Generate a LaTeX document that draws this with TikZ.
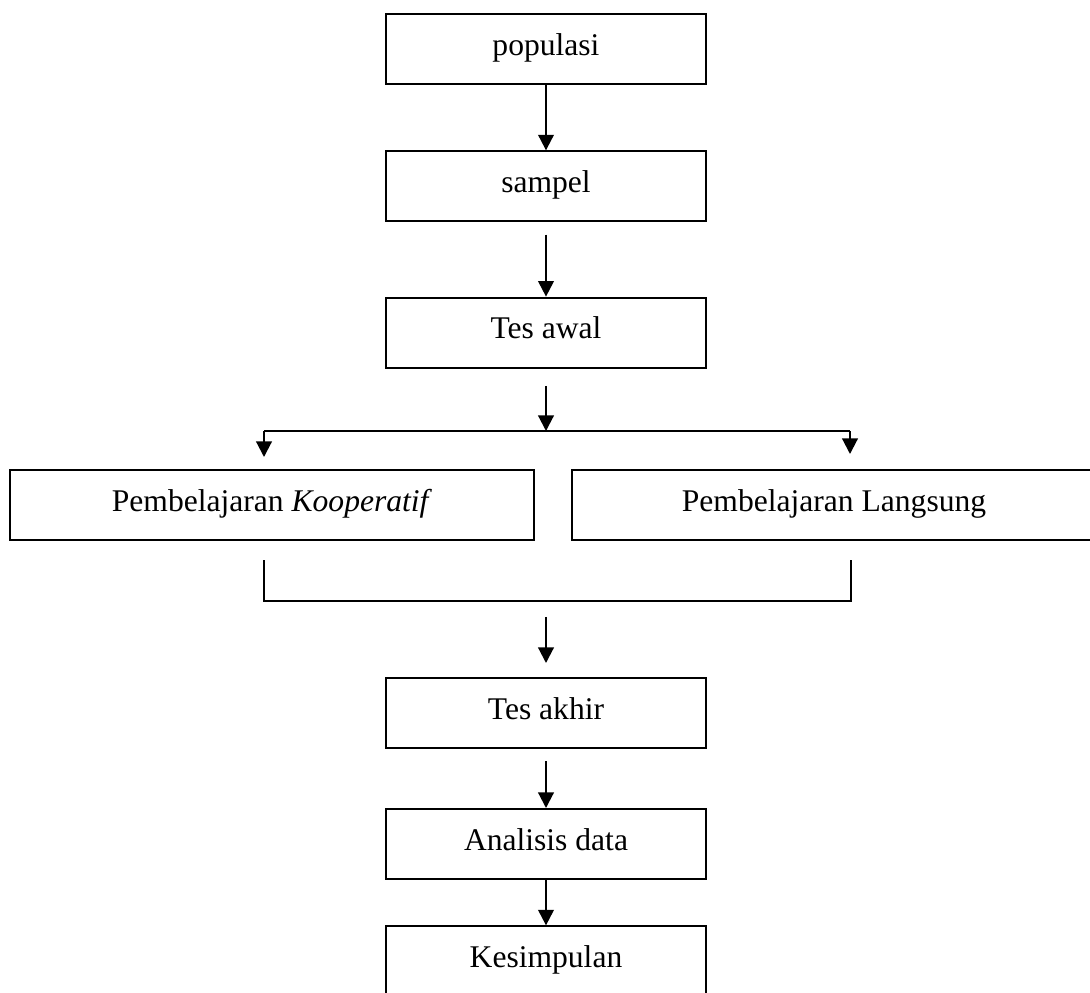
\documentclass[tikz,border=0pt]{standalone}
\usepackage{fontspec}
\setmainfont{Liberation Serif}
\usetikzlibrary{arrows.meta, positioning}

\begin{document}
\begin{tikzpicture}[
    x=0.38pt, y=-0.38pt,
    font=\fontsize{12}{14}\selectfont,
    stage/.style={rectangle, minimum width=121.6pt, minimum height=26.6pt, text height=8pt, text depth=3.4pt, text centered, draw=black, line width=0.8pt},
    method/.style={stage, minimum width=199.1pt},
    arrow/.style={-{Triangle[length=5.9pt, width=5.9pt]}, line width=0.8pt},
    line/.style={line width=0.8pt}
]
\useasboundingbox (0,0) rectangle (1090,992);

% Nodes
\node (populasi) [stage] at (546,49) {populasi};
\node (sampel) [stage, below=24.8pt of populasi] {sampel};
\node (tesawal) [stage, below=28.2pt of sampel] {Tes awal};

\node (kooperatif) [method] at (272,505) {Pembelajaran \textit{Kooperatif}};
\node (langsung) [method] at (834,505) {Pembelajaran Langsung};

\node (tesakhir) [stage] at (546,713) {Tes akhir};
\node (analisis) [stage, below=22.4pt of tesakhir] {Analisis data};
\node (kesimpulan) [stage, below=17.2pt of analisis] {Kesimpulan};

% Branch and join points
\coordinate (split) at (546,431);
\coordinate (splitL) at (264,431);
\coordinate (splitR) at (850,431);
\coordinate (endL) at (264,560);
\coordinate (endR) at (851,560);
\coordinate (joinL) at (264,601);
\coordinate (joinR) at (851,601);
\coordinate (join) at (546,601);

% Arrows
\draw [arrow] (populasi) -- (sampel);
\draw [arrow] ([yshift=-4.6pt]sampel.south) -- (tesawal.north);
\draw [arrow] ([yshift=-6.5pt]tesawal.south) -- (split);
\draw [line] (splitL) -- (splitR);
\draw [arrow] (splitL) -- (splitL |- 0,457);
\draw [arrow] (splitR) -- (splitR |- 0,454);
\draw [line] (endL) -- (joinL) -- (joinR) -- (endR);
\draw [arrow] ([yshift=-6pt]join) -- ([yshift=5.3pt]tesakhir.north);
\draw [arrow] ([yshift=-4.6pt]tesakhir.south) -- (analisis.north);
\draw [arrow] (analisis) -- (kesimpulan);

\end{tikzpicture}
\end{document}
